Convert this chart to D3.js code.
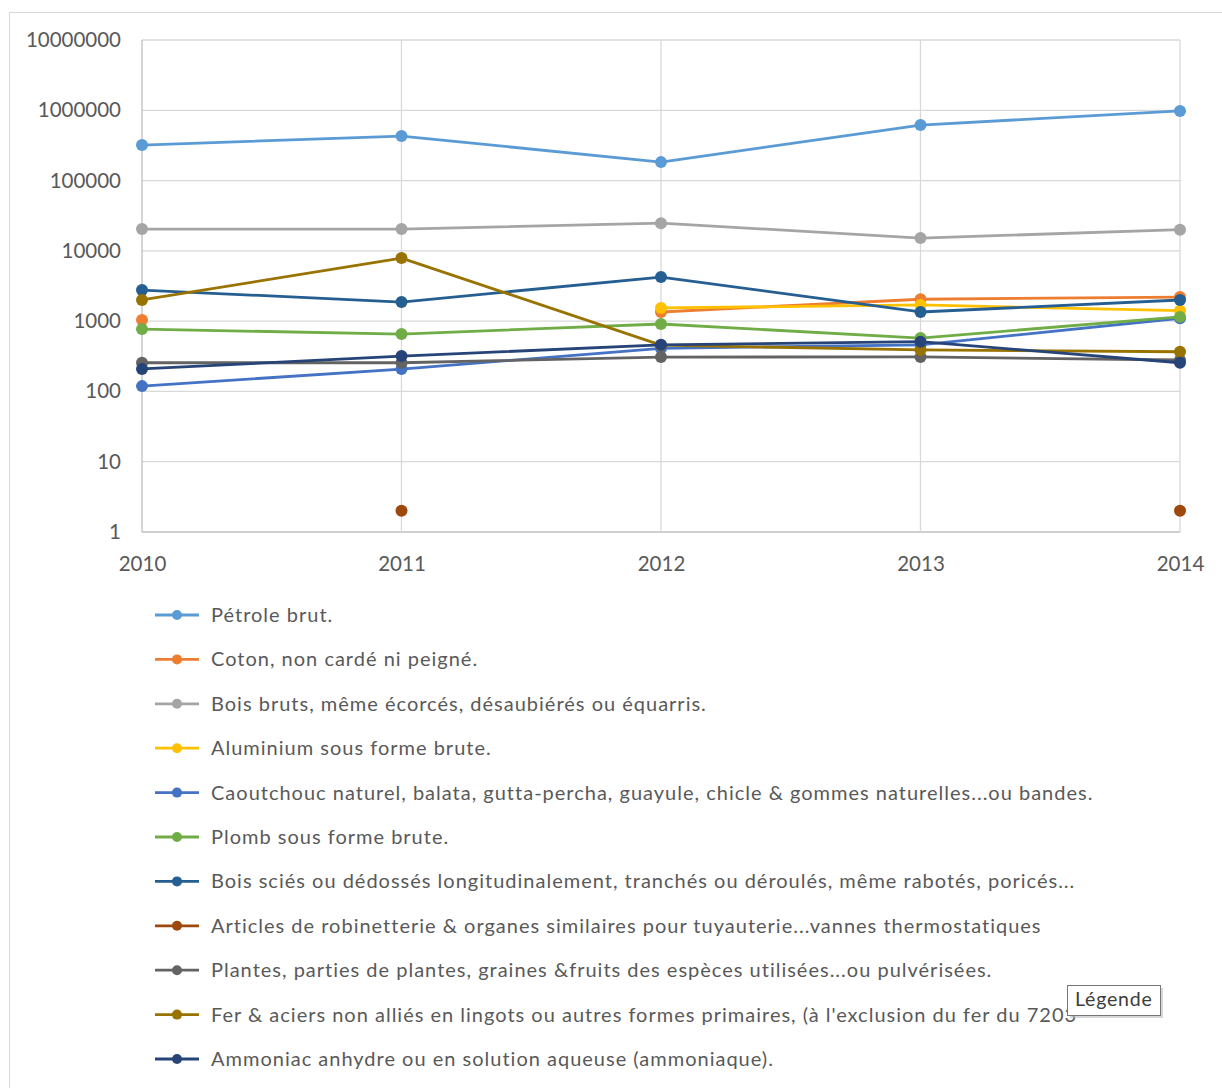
<!DOCTYPE html>
<meta charset="utf-8">
<style>
  body { margin: 0; background: #fff; }
  text { font-family: Lato, "Noto Sans", sans-serif; fill: #595959; }
</style>
<svg width="1222" height="1088"></svg>
<script src="https://d3js.org/d3.v7.min.js"></script>
<script>

var years = [2010, 2011, 2012, 2013, 2014];

var yTicks = [1, 10, 100, 1000, 10000, 100000, 1000000, 10000000];

var names = [
  "Pétrole brut.",
  "Coton, non cardé ni peigné.",
  "Bois bruts, même écorcés, désaubiérés ou équarris.",
  "Aluminium sous forme brute.",
  "Caoutchouc naturel, balata, gutta-percha, guayule, chicle & gommes naturelles...ou bandes.",
  "Plomb sous forme brute.",
  "Bois sciés ou dédossés longitudinalement, tranchés ou déroulés, même rabotés, poricés...",
  "Articles de robinetterie & organes similaires pour tuyauterie...vannes thermostatiques",
  "Plantes, parties de plantes, graines &fruits des espèces utilisées...ou pulvérisées.",
  "Fer & aciers non alliés en lingots ou autres formes primaires, (à l'exclusion du fer du 7203",
  "Ammoniac anhydre ou en solution aqueuse (ammoniaque)."
];

var colors = ["#5B9BD5", "#ED7D31", "#A5A5A5", "#FFC000", "#4472C4", "#70AD47",
              "#255E91", "#9E480E", "#636363", "#997300", "#264478"];

// one row per series, one value per year (null = no data)
var values = [
  [320000, 430000, 183000, 616000, 980000],
  [1040, null, 1350, 2050, 2200],
  [20400, 20400, 24800, 15200, 20000],
  [null, null, 1540, 1700, 1410],
  [119, 208, 410, 460, 1100],
  [770, 655, 910, 575, 1150],
  [2770, 1870, 4240, 1350, 2000],
  [null, 2, null, null, 2],
  [256, 256, 308, 310, 280],
  [2000, 7900, 455, 390, 367],
  [209, 318, 460, 510, 256]
];

var svg = d3.select("svg");

var x = d3.scaleLinear().domain([2010, 2014]).range([142, 1180]),
    y = d3.scaleLog().domain([1, 1e7]).range([532, 40]);

// chart frame
svg.append("rect")
    .attr("x", 9.5).attr("y", 12.5)
    .attr("width", 1240).attr("height", 1100)
    .attr("fill", "none")
    .attr("stroke", "#D9D9D9");

// gridlines
svg.append("g").selectAll("line")
  .data(yTicks)
  .enter().append("line")
    .attr("x1", x(2010)).attr("x2", x(2014))
    .attr("y1", function(d) { return y(d); })
    .attr("y2", function(d) { return y(d); })
    .attr("stroke", function(d) { return d === 1 ? "#BFBFBF" : "#D9D9D9"; })
    .attr("stroke-width", 1.3);

svg.append("g").selectAll("line")
  .data(years)
  .enter().append("line")
    .attr("x1", function(d) { return x(d); })
    .attr("x2", function(d) { return x(d); })
    .attr("y1", y(1e7)).attr("y2", y(1))
    .attr("stroke", function(d) { return d === 2010 ? "#BFBFBF" : "#D9D9D9"; })
    .attr("stroke-width", 1.3);

// axis labels
var yAxis = d3.axisLeft(y).tickValues(yTicks).tickFormat(d3.format("d")).tickSize(0).tickPadding(21);
svg.append("g")
    .attr("transform", "translate(" + x(2010) + ",0)")
    .call(yAxis)
    .call(function(g) { g.select(".domain").remove(); })
    .selectAll("text")
    .style("font-size", "20.5px")
    .attr("fill", "#595959");

var xAxis = d3.axisBottom(x).tickValues(years).tickFormat(d3.format("d")).tickSize(0).tickPadding(24);
svg.append("g")
    .attr("transform", "translate(0," + y(1) + ")")
    .call(xAxis)
    .call(function(g) { g.select(".domain").remove(); })
    .selectAll("text")
    .style("font-size", "20.5px")
    .attr("fill", "#595959");

// series
var line = d3.line()
    .defined(function(d) { return d != null; })
    .x(function(d, i) { return x(years[i]); })
    .y(function(d) { return y(d); });

var series = svg.append("g").selectAll("g")
  .data(values)
  .enter().append("g");

series.append("path")
    .attr("d", line)
    .attr("fill", "none")
    .attr("stroke", function(d, i) { return colors[i]; })
    .attr("stroke-width", 2.8)
    .attr("stroke-linejoin", "round");

series.each(function(vals, s) {
  d3.select(this).selectAll("circle")
    .data(vals.map(function(v, i) { return { v: v, year: years[i] }; })
              .filter(function(d) { return d.v != null; }))
    .enter().append("circle")
      .attr("cx", function(d) { return x(d.year); })
      .attr("cy", function(d) { return y(d.v); })
      .attr("r", 6)
      .attr("fill", colors[s]);
});

// legend
var legend = svg.append("g").selectAll("g")
  .data(names)
  .enter().append("g")
    .attr("transform", function(d, i) { return "translate(155," + (615 + i * 44.4) + ")"; });

legend.append("line")
    .attr("x1", 0).attr("x2", 44)
    .attr("stroke", function(d, i) { return colors[i]; })
    .attr("stroke-width", 2.8);

legend.append("circle")
    .attr("cx", 22).attr("r", 5)
    .attr("fill", function(d, i) { return colors[i]; });

legend.append("text")
    .attr("x", 56)
    .attr("dy", "0.35em")
    .style("font-size", "20px")
    .style("letter-spacing", "1px")
    .text(function(d) { return d; });

// hover tooltip
var tip = svg.append("g").attr("transform", "translate(1067,985)");
tip.append("rect")
    .attr("x", 3).attr("y", 3).attr("width", 93).attr("height", 30)
    .attr("fill", "#BDBDBD").attr("opacity", 0.6);
tip.append("rect")
    .attr("x", 0.5).attr("y", 0.5).attr("width", 93).attr("height", 30)
    .attr("fill", "#fff").attr("stroke", "#767676");
tip.append("text")
    .attr("x", 8).attr("y", 21)
    .style("font-size", "19.5px")
    .style("letter-spacing", "0.8px")
    .style("fill", "#3C3C3C")
    .text("Légende");

</script>
